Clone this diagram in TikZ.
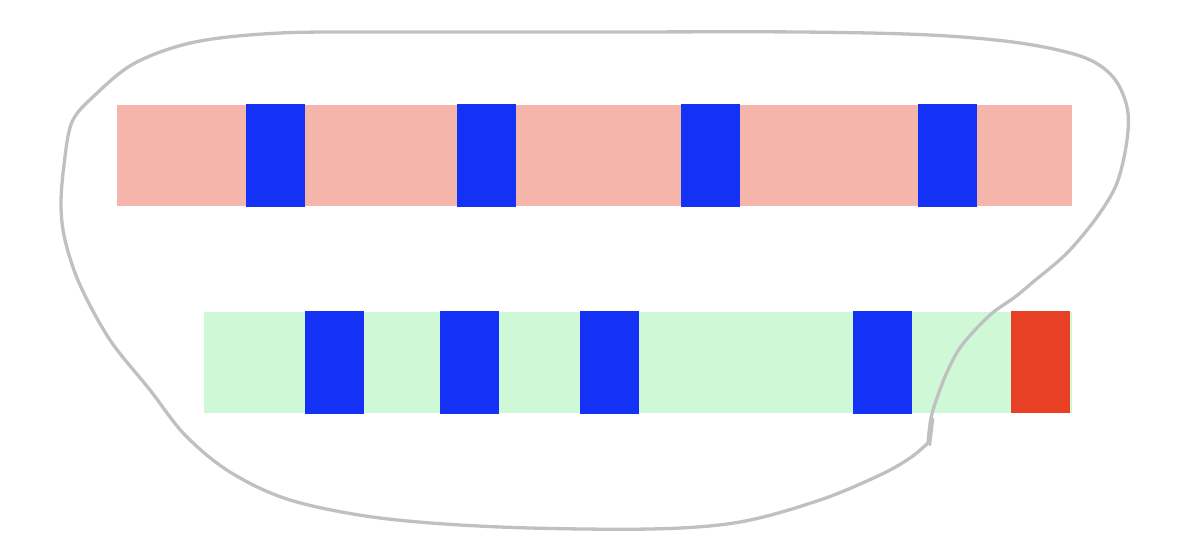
\documentclass[tikz,border=0pt]{standalone}
\begin{document}
\begin{tikzpicture}[x=1pt,y=-1pt,
  pinkbar/.style={fill=pinkc, draw=none},
  greenbar/.style={fill=greenc, draw=none},
  bluebox/.style={fill=bluec, draw=none},
  redbox/.style={fill=redc, draw=none},
  loop/.style={draw=grayc, line width=3.3pt, line cap=round, line join=round}]
\definecolor{pinkc}{HTML}{F5B5AB}
\definecolor{greenc}{HTML}{CFF9D6}
\definecolor{bluec}{HTML}{1432F5}
\definecolor{redc}{HTML}{E84025}
\definecolor{grayc}{HTML}{C0C0C0}
\useasboundingbox (0,0) rectangle (1182,554);
% top bar
\path[pinkbar] (117,105) rectangle (1072,206);
\foreach \x in {246,457,681,918} \path[bluebox] (\x,104) rectangle (\x+59,207);
% bottom bar
\path[greenbar] (204,312) rectangle (1072,413);
\foreach \x in {305,440,580,853} \path[bluebox] (\x,311) rectangle (\x+59,414);
\path[redbox] (1011,311) rectangle (1070,413);
% freehand loop
\draw[loop] plot[smooth, tension=0.55] coordinates {
 (928,443) (931,418) (938,395) (948,370) (962,345) (990,315) (1015,297)
 (1033,282) (1067,253) (1097,217) (1117,183) (1127,140) (1127,107)
 (1113,77) (1083,57) (1020,43) (930,35) (800,32) (600,32) (400,32)
 (280,33) (195,42) (135,63) (95,95) (72,122) (64,165) (61,205)
 (65,240) (80,285) (110,340) (150,390) (185,435) (230,472) (290,500)
 (380,518) (500,527) (650,529) (740,522) (820,500) (880,475) (910,458) (928,443)};
\draw[loop, line width=2.5pt] (933,419) -- (930,445);
\end{tikzpicture}
\end{document}
